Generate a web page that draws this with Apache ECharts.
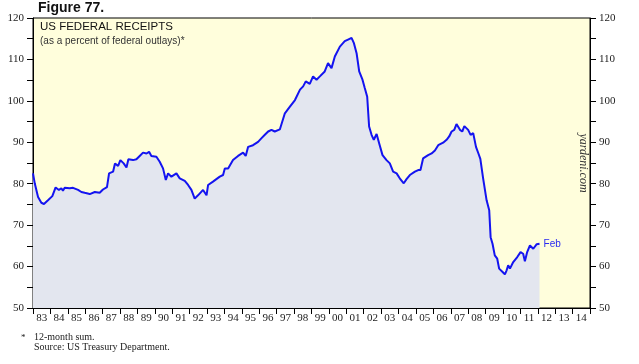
<!DOCTYPE html>
<html>
<head>
<meta charset="utf-8">
<script src="https://cdn.jsdelivr.net/npm/echarts@6/dist/echarts.min.js"></script>
<style>
  html, body { margin: 0; padding: 0; background: #fff; }
  #chart { width: 639px; height: 364px; }
</style>
</head>
<body>
<div id="chart"></div>
<script>
// Decimal-year dates (x) and receipts as % of outlays (y)
var dates = [
  1983.00,1983.10,1983.29,1983.48,1983.63,1983.86,1984.11,1984.30,1984.49,1984.63,1984.72,1984.82,
  1985.11,1985.30,1985.59,1985.78,1985.97,1986.26,1986.55,1986.83,1987.02,1987.25,1987.37,1987.60,
  1987.71,1987.89,1988.02,1988.21,1988.37,1988.48,1988.75,1988.94,1989.13,1989.32,1989.52,1989.67,
  1989.80,1990.09,1990.28,1990.47,1990.63,1990.76,1990.95,1991.24,1991.43,1991.72,1991.91,1992.10,
  1992.29,1992.48,1992.77,1992.97,1993.06,1993.34,1993.73,1993.92,1994.02,1994.21,1994.49,1994.78,
  1995.07,1995.22,1995.36,1995.64,1995.93,1996.13,1996.32,1996.51,1996.70,1996.89,1997.18,1997.47,
  1997.76,1998.05,1998.34,1998.52,1998.67,1998.90,1999.09,1999.29,1999.48,1999.76,1999.95,2000.15,
  2000.34,2000.63,2000.91,2001.10,2001.30,2001.43,2001.59,2001.74,2001.93,2002.06,2002.20,2002.31,
  2002.45,2002.58,2002.74,2002.89,2003.08,2003.31,2003.50,2003.69,2003.89,2004.07,2004.30,2004.46,
  2004.65,2004.94,2005.13,2005.26,2005.41,2005.70,2005.90,2006.09,2006.28,2006.56,2006.76,2006.91,
  2007.05,2007.20,2007.33,2007.53,2007.66,2007.78,2008.00,2008.14,2008.29,2008.45,2008.59,2008.70,
  2008.86,2009.06,2009.21,2009.29,2009.40,2009.53,2009.67,2009.78,2009.98,2010.11,2010.21,2010.30,
  2010.40,2010.59,2010.82,2011.01,2011.16,2011.26,2011.39,2011.55,2011.74,2011.94,2012.10
];
var receipts = [
  82.5,80.1,76.8,75.4,75.1,76.0,77.0,79.1,78.5,78.9,78.3,79.0,
  78.9,79.0,78.5,78.0,77.8,77.5,78.0,77.8,78.6,79.2,82.5,82.9,
  84.9,84.3,85.7,84.9,83.9,85.9,85.7,85.9,86.7,87.5,87.3,87.7,
  86.7,86.5,85.3,83.7,80.9,82.5,81.7,82.5,81.3,80.7,79.7,78.5,
  76.4,77.2,78.5,77.2,79.7,80.5,81.7,82.1,83.7,83.7,85.7,86.7,
  87.5,86.7,88.9,89.3,90.1,91.0,91.8,92.6,93.0,92.6,93.1,97.0,
  98.6,100.2,102.7,103.5,104.7,104.1,105.9,105.1,105.9,107.1,109.1,107.9,
  110.7,113.1,114.4,114.8,115.2,114.0,111.5,107.1,105.1,103.1,101.0,93.8,
  91.8,90.6,92.0,89.7,86.9,85.7,84.9,82.9,82.5,81.3,80.1,81.1,
  82.1,82.9,83.3,83.3,86.1,86.9,87.3,88.0,89.3,89.9,90.6,91.4,
  92.6,93.0,94.4,93.0,92.6,93.9,93.0,91.8,92.2,88.9,87.3,86.0,
  81.3,76.0,73.6,67.1,65.5,62.7,61.9,59.5,58.7,58.1,59.1,60.3,
  59.5,61.1,62.3,63.5,63.1,61.3,63.5,65.1,64.3,65.4,65.5
];
var yearLabels = ['83','84','85','86','87','88','89','90','91','92','93','94','95','96','97','98',
                  '99','00','01','02','03','04','05','06','07','08','09','10','11','12','13','14'];
var endLabelText = 'Feb';

var chart = echarts.init(document.getElementById('chart'), null, {renderer: 'canvas'});
var serif = 'Liberation Serif';
var sans = 'Liberation Sans';
var yAxisBase = function (pos) {
  return {
    type: 'value', position: pos, min: 50, max: 120, interval: 5,
    axisLine: {show: true, lineStyle: {color: '#000', width: 1}},
    axisTick: {show: true, length: 6, lineStyle: {color: '#000'}},
    splitLine: {show: false},
    axisLabel: {
      margin: 9, fontFamily: serif, fontSize: 11, color: '#222',
      formatter: function (v) { return v % 10 === 0 ? String(v) : ''; }
    }
  };
};
chart.setOption({
  animation: false,
  grid: {
    left: 33, right: 49, top: 18, bottom: 56,
    show: true, backgroundColor: '#FFFEDC', borderColor: '#000', borderWidth: 1
  },
  xAxis: [
    {
      type: 'value', min: 1983, max: 2015, interval: 1,
      axisLine: {show: true, lineStyle: {color: '#000'}},
      axisTick: {show: true, length: 6, lineStyle: {color: '#000'}},
      axisLabel: {show: false},
      splitLine: {show: false}
    },
    {
      type: 'category', position: 'bottom', data: yearLabels, boundaryGap: true,
      axisLine: {show: false}, axisTick: {show: false}, splitLine: {show: false},
      axisLabel: {interval: 0, margin: 5, fontFamily: serif, fontSize: 11, color: '#222'}
    }
  ],
  yAxis: [yAxisBase('left'), yAxisBase('right')],
  graphic: [
    {type: 'text', left: 38, top: 1, style: {text: 'Figure 77.', font: 'bold 14px "Liberation Sans"', fill: '#111'}},
    {type: 'text', left: 40, top: 21, style: {text: 'US FEDERAL RECEIPTS', font: '11.5px "Liberation Sans"', fill: '#111'}},
    {type: 'text', left: 40, top: 36, style: {text: '(as a percent of federal outlays)*', font: '10px "Liberation Sans"', fill: '#333'}},
    {type: 'text', x: 583, y: 163, rotation: -Math.PI / 2,
     style: {text: 'yardeni.com', font: 'italic 12px "Liberation Serif"', fill: '#333', align: 'center', verticalAlign: 'middle'}},
    {type: 'text', left: 21, top: 333, style: {text: '*', font: '9px "Liberation Serif"', fill: '#222'}},
    {type: 'text', left: 34, top: 332, style: {text: '12-month sum.', font: '10px "Liberation Serif"', fill: '#222'}},
    {type: 'text', left: 34, top: 342, style: {text: 'Source: US Treasury Department.', font: '10px "Liberation Serif"', fill: '#222'}}
  ],
  series: [{
    type: 'line', xAxisIndex: 0, yAxisIndex: 0,
    data: dates.map(function (d, i) { return [d, receipts[i]]; }),
    showSymbol: false, symbol: 'none',
    lineStyle: {color: '#1414F0', width: 2},
    areaStyle: {color: '#E3E6EF', origin: 'start', opacity: 1},
    endLabel: {show: true, formatter: endLabelText, color: '#2A2AF0', fontFamily: sans, fontSize: 10, distance: 4}
  }]
});
</script>
</body>
</html>
